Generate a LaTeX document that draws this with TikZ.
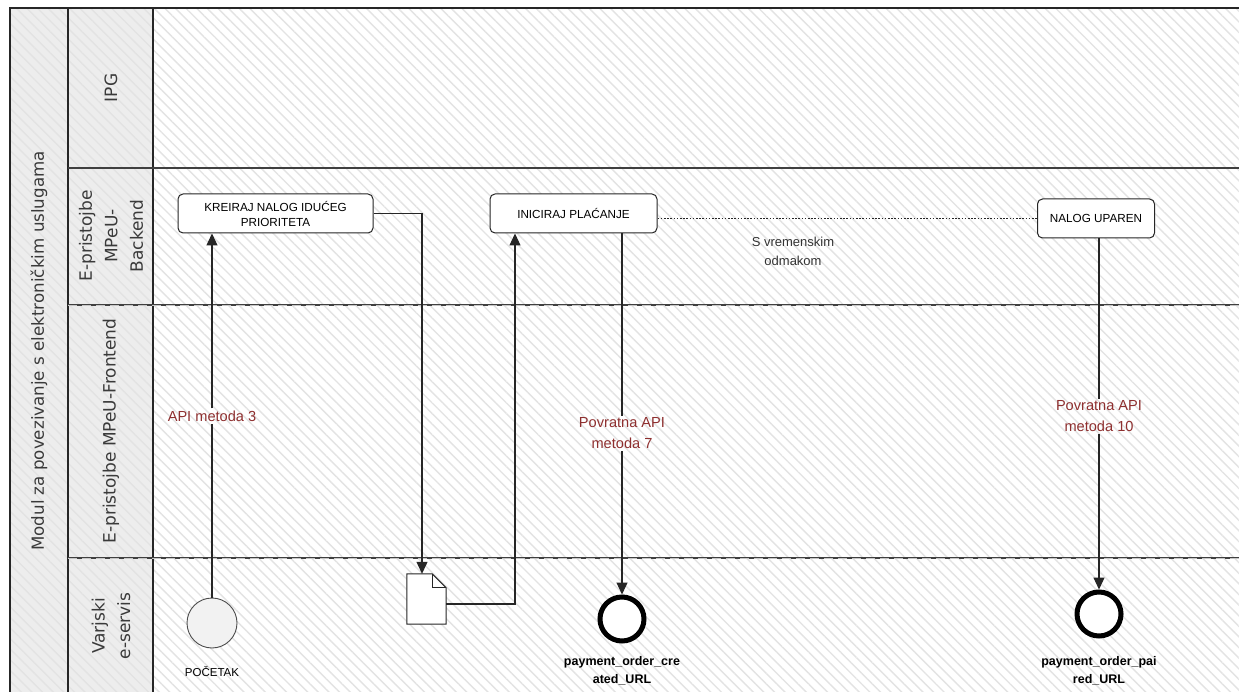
\documentclass[tikz,border=0pt]{standalone}
\usepackage{fontspec}
\setmainfont{Liberation Sans}
\newfontfamily\lanefont{DejaVu Sans}
\usetikzlibrary{patterns.meta,arrows.meta,calc}
\definecolor{hatch}{gray}{0.89}
\definecolor{hdrfill}{gray}{0.93}
\definecolor{lblred}{HTML}{8E2F2F}
\definecolor{txtgray}{HTML}{3A3A3A}
\begin{document}
\begin{tikzpicture}[x=1pt,y=-1pt,
  hatchfill/.style={pattern={Lines[angle=-45,distance=7.5pt,line width=1.4pt]},pattern color=hatch},
  task/.style={draw=black!85,line width=1pt,rounded corners=5pt,fill=white,minimum height=39pt,align=center,font=\fontsize{11.7}{15}\selectfont,inner sep=0pt},
  lanelbl/.style={rotate=90,align=center,text=txtgray,font=\lanefont\fontsize{17}{25.5}\selectfont},
  conn/.style={draw=black!85,line width=1.2pt},
  arr/.style={conn,-{Triangle[length=12pt,width=11pt]}},
  apilbl/.style={text=lblred,align=center,inner sep=2pt,font=\fontsize{14.6}{21}\selectfont},
  evlbl/.style={align=center,inner sep=0pt,font=\bfseries\fontsize{12.5}{18}\selectfont},
  endev/.style={circle,draw=black,line width=5pt,fill=white,minimum size=44pt,inner sep=0pt},
  lanediv/.style={line width=2.4pt,draw=black!75},
  lanedash/.style={line width=0.7pt,draw=white!55!gray,dash pattern=on 9pt off 5pt}
]
\useasboundingbox (0,0) rectangle (1239,692);
\fill[white] (0,0) rectangle (1239,692);
\fill[hdrfill] (10,8) rectangle (153,692);
\fill[hatchfill] (10,8) rectangle (1239,692);
% frame
\draw[line width=1.3pt,black!85] (10,692) -- (10,8) -- (1239,8);
\draw[line width=1.2pt,black!85] (68,8) -- (68,692);
\draw[line width=1.2pt,black!85] (153,8) -- (153,692);
\draw[lanediv] (68,168) -- (1239,168);
\draw[lanediv] (68,305) -- (1239,305);
\draw[lanedash] (68,305) -- (1239,305);
\draw[lanediv] (68,558) -- (1239,558);
\draw[lanedash] (68,558) -- (1239,558);
% labels
\node[lanelbl,font=\lanefont\fontsize{16.7}{18}\selectfont] (pool) at (39,351) {Modul za povezivanje s elektroničkim uslugama};
\node[lanelbl] (lipg) at (111,88) {IPG};
\node[lanelbl] (lback) at (111,236) {E-pristojbe\\MPeU-\\Backend};
\node[lanelbl] (lfront) at (111,431) {E-pristojbe MPeU-Frontend};
\node[lanelbl] (lvar) at (111,626) {Varjski\\e-servis};
% tasks
\node[task,minimum width=195pt] (kreiraj) at (275.5,213.5) {KREIRAJ NALOG IDUĆEG\\PRIORITETA};
\node[task,minimum width=167pt] (inic) at (573.5,213.5) {INICIRAJ PLAĆANJE};
\node[task,minimum width=117pt] (nalog) at (1096,218.5) {NALOG UPAREN};
\node[align=center,text=black!80,font=\fontsize{13}{19}\selectfont] (svrem) at (793,251.5) {S vremenskim\\odmakom};
% events
\node[circle,draw=black!70,fill=gray!10,minimum size=50pt,inner sep=0pt,line width=0.9pt] (start) at (212,623) {};
\node[align=center,inner sep=0pt,font=\fontsize{11.5}{14}\selectfont] (startl) at (212,672) {POČETAK};
\node[endev] (end1) at (622,619) {};
\node[evlbl] (end1l) at (622,671) {payment\_order\_cre\\ated\_URL};
\node[endev] (end2) at (1099,614) {};
\node[evlbl] (end2l) at (1099,671) {payment\_order\_pai\\red\_URL};
% document
\node[minimum width=39pt,minimum height=50pt,inner sep=0pt] (doc) at (426.5,599) {};
\draw[draw=black!85,fill=white,line width=1pt] (doc.north west) -- ($(doc.north east)+(-14,0)$) -- ($(doc.north east)+(0,14)$) -- (doc.south east) -- (doc.south west) -- cycle;
\draw[draw=black!85,line width=1pt] ($(doc.north east)+(-14,0)$) -- ($(doc.north east)+(-14,14)$) -- ($(doc.north east)+(0,14)$);
% connectors
\node[apilbl] (l3) at (212,416) {API metoda 3};
\draw[conn] (start.north) -- (l3.south);
\draw[arr] (l3.north) -- (start.north |- kreiraj.south);
\coordinate (k1) at (422,213.5);
\draw[arr] (kreiraj.east) -- (k1) -- (k1 |- doc.north);
\coordinate (d1) at (515,604);
\draw[arr] (doc.east |- d1) -- (d1) -- (d1 |- inic.south);
\node[apilbl] (l7) at (622,433.5) {Povratna API\\metoda 7};
\draw[conn] (inic.south -| end1.north) -- (l7.north);
\draw[arr] (l7.south) -- (end1.north);
\node[apilbl] (l10) at (1099,416.5) {Povratna API\\metoda 10};
\draw[conn] (nalog.south -| end2.north) -- (l10.north);
\draw[arr] (l10.south) -- (end2.north);
\draw[conn,line width=1.1pt,dash pattern=on 1.6pt off 1.6pt] (inic.east |- nalog.west) -- (nalog.west);
\end{tikzpicture}
\end{document}
